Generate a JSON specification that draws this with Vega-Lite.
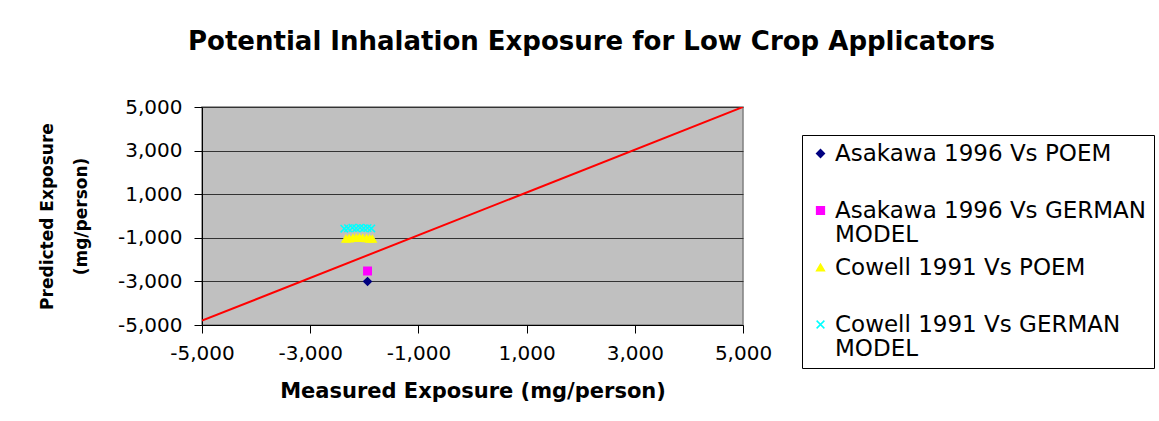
{
  "$schema": "https://vega.github.io/schema/vega-lite/v6.json",
  "width": 541,
  "height": 218,
  "autosize": {"type": "none"},
  "padding": {"left": 202, "top": 107, "right": 416, "bottom": 96},
  "background": "white",
  "config": {
    "font": "DejaVu Sans",
    "view": {"fill": "#C0C0C0", "stroke": "#808080", "strokeWidth": 1.5},
    "axis": {"labelFont": "DejaVu Sans", "titleFont": "DejaVu Sans", "labelColor": "#000", "titleColor": "#000", "domainColor": "#000", "tickColor": "#000"},
    "style": {"guide-label": {"lineHeight": 24}}
  },
  "title": {
    "text": "Potential Inhalation Exposure for Low Crop Applicators",
    "fontSize": 26,
    "fontWeight": "bold",
    "font": "DejaVu Sans",
    "anchor": "middle",
    "frame": "group",
    "dx": 119,
    "offset": 42,
    "color": "#000"
  },
  "datasets": {
    "line": [
      {"measured": -5000, "predicted": -4800},
      {"measured": 5000, "predicted": 5000}
    ],
    "points": [
      {"series": "Asakawa 1996 Vs POEM", "measured": -1940, "predicted": -3000},
      {"series": "Asakawa 1996 Vs GERMAN MODEL", "measured": -1940, "predicted": -2520},
      {"series": "Cowell 1991 Vs POEM", "measured": -2340, "predicted": -1040},
      {"series": "Cowell 1991 Vs POEM", "measured": -2280, "predicted": -1030},
      {"series": "Cowell 1991 Vs POEM", "measured": -2210, "predicted": -1010},
      {"series": "Cowell 1991 Vs POEM", "measured": -2150, "predicted": -1000},
      {"series": "Cowell 1991 Vs POEM", "measured": -2090, "predicted": -1000},
      {"series": "Cowell 1991 Vs POEM", "measured": -2030, "predicted": -1010},
      {"series": "Cowell 1991 Vs POEM", "measured": -1960, "predicted": -1020},
      {"series": "Cowell 1991 Vs POEM", "measured": -1900, "predicted": -1040},
      {"series": "Cowell 1991 Vs POEM", "measured": -1850, "predicted": -1050},
      {"series": "Cowell 1991 Vs GERMAN MODEL", "measured": -2370, "predicted": -580},
      {"series": "Cowell 1991 Vs GERMAN MODEL", "measured": -2300, "predicted": -560},
      {"series": "Cowell 1991 Vs GERMAN MODEL", "measured": -2220, "predicted": -540},
      {"series": "Cowell 1991 Vs GERMAN MODEL", "measured": -2150, "predicted": -560},
      {"series": "Cowell 1991 Vs GERMAN MODEL", "measured": -2080, "predicted": -540},
      {"series": "Cowell 1991 Vs GERMAN MODEL", "measured": -2010, "predicted": -560},
      {"series": "Cowell 1991 Vs GERMAN MODEL", "measured": -1940, "predicted": -550},
      {"series": "Cowell 1991 Vs GERMAN MODEL", "measured": -1870, "predicted": -570}
    ]
  },
  "layer": [
    {
      "data": {"name": "line"},
      "mark": {"type": "line", "color": "#FF0000", "strokeWidth": 2, "clip": true},
      "encoding": {
        "x": {"field": "measured", "type": "quantitative"},
        "y": {"field": "predicted", "type": "quantitative"}
      }
    },
    {
      "data": {"name": "points"},
      "mark": {"type": "point", "filled": true, "strokeWidth": 1.5, "opacity": 1, "size": 55},
      "encoding": {
        "x": {
          "field": "measured",
          "type": "quantitative",
          "scale": {"domain": [-5000, 5000], "nice": false, "zero": false},
          "axis": {
            "values": [-5000, -3000, -1000, 1000, 3000, 5000],
            "labelExpr": "replace(format(datum.value, ',.0f'), '\u2212', '-')",
            "labelFlush": false,
            "labelOverlap": false,
            "grid": false,
            "tickSize": 8,
            "labelFontSize": 20,
            "labelPadding": 10,
            "title": "Measured Exposure (mg/person)",
            "titleFontSize": 21,
            "titleFontWeight": "bold",
            "titlePadding": 17
          }
        },
        "y": {
          "field": "predicted",
          "type": "quantitative",
          "scale": {"domain": [-5000, 5000], "nice": false, "zero": false},
          "axis": {
            "values": [-5000, -3000, -1000, 1000, 3000, 5000],
            "labelExpr": "replace(format(datum.value, ',.0f'), '\u2212', '-')",
            "labelFlush": false,
            "labelOverlap": false,
            "grid": true,
            "gridColor": "#333333",
            "gridWidth": 1,
            "tickSize": 8,
            "labelFontSize": 20,
            "labelPadding": 12,
            "title": ["Predicted Exposure", "(mg/person)"],
            "titleFontSize": 17,
            "titleFontWeight": "bold",
            "titlePadding": 27,
            "titleLineHeight": 34
          }
        },
        "color": {
          "field": "series",
          "type": "nominal",
          "scale": {
            "domain": ["Asakawa 1996 Vs POEM", "Asakawa 1996 Vs GERMAN MODEL", "Cowell 1991 Vs POEM", "Cowell 1991 Vs GERMAN MODEL"],
            "range": ["#000080", "#FF00FF", "#FFFF00", "#00FFFF"]
          },
          "legend": {
            "title": null,
            "orient": "none",
            "legendX": 600,
            "legendY": 28,
            "strokeColor": "#000000",
            "fillColor": "#FFFFFF",
            "padding": 7,
            "labelFontSize": 23,
            "labelFont": "DejaVu Sans",
            "labelColor": "#000",
            "labelLimit": 400,
            "symbolSize": 60,
            "rowPadding": 9,
            "labelOffset": 3,
            "labelExpr": "indexof(datum.label, ' MODEL') > 0 ? [slice(datum.label, 0, indexof(datum.label, ' MODEL')), 'MODEL'] : [datum.label, '']"
          }
        },
        "stroke": {
          "field": "series",
          "type": "nominal",
          "scale": {
            "domain": ["Asakawa 1996 Vs POEM", "Asakawa 1996 Vs GERMAN MODEL", "Cowell 1991 Vs POEM", "Cowell 1991 Vs GERMAN MODEL"],
            "range": ["#000080", "#FF00FF", "#FFFF00", "#00FFFF"]
          },
          "legend": null
        },
        "shape": {
          "field": "series",
          "type": "nominal",
          "scale": {
            "domain": ["Asakawa 1996 Vs POEM", "Asakawa 1996 Vs GERMAN MODEL", "Cowell 1991 Vs POEM", "Cowell 1991 Vs GERMAN MODEL"],
            "range": ["diamond", "square", "triangle-up", "M-1,-1L1,1M-1,1L1,-1"]
          },
          "legend": null
        }
      }
    }
  ]
}
